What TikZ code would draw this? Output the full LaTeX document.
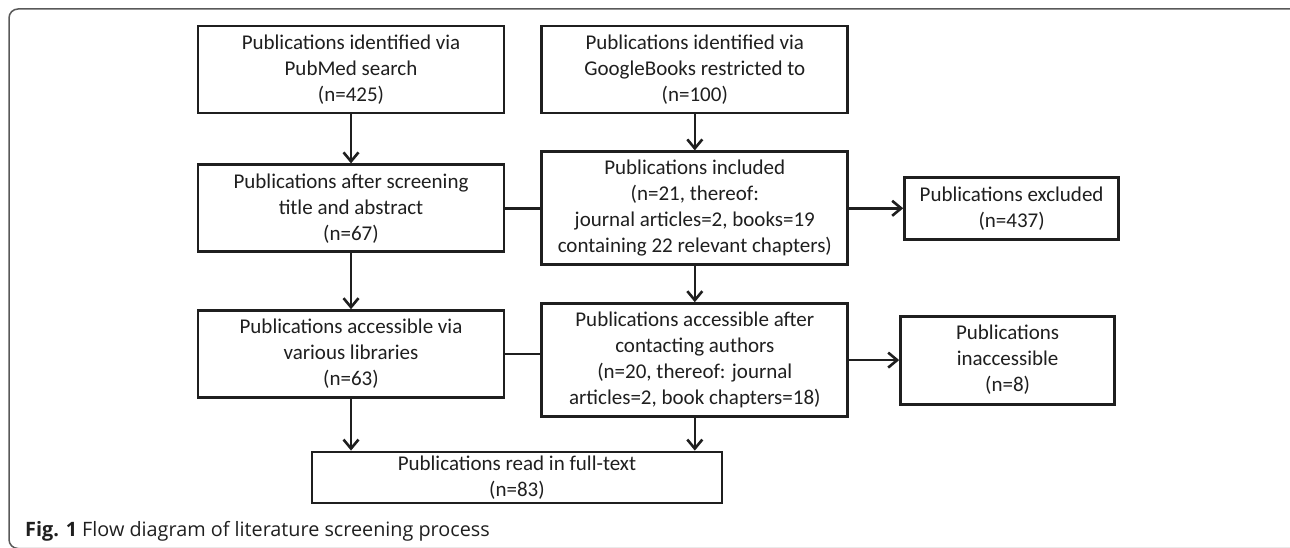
\documentclass[tikz,border=0pt]{standalone}
\usepackage{fontspec}
\setmainfont{Carlito}
\newfontfamily\capfont{Open Sans}
\usepackage{tikz}
\usetikzlibrary{positioning,arrows.meta}
\definecolor{ink}{rgb}{0.12,0.12,0.12}
\definecolor{framegray}{rgb}{0.35,0.35,0.35}

\begin{document}
\begin{tikzpicture}[x=1pt,y=1pt]
\tikzstyle{box}=[rectangle, draw=ink, line width=2.8pt, fill=white, text=ink, align=center, minimum width=306pt, minimum height=87pt, inner sep=2pt, font=\fontsize{21}{26}\selectfont]
\tikzstyle{bigbox}=[box, minimum height=113pt]
\tikzstyle{sidebox}=[box, minimum width=214pt]
\tikzstyle{connect}=[-{Straight Barb[length=9pt,width=15pt]}, draw=ink, line width=2.6pt]
\tikzstyle{link}=[draw=ink, line width=2.6pt]
  \useasboundingbox (0,0) rectangle (1290,-548);
  \begin{scope}
    \clip (0,0) rectangle (1290,-548);
    \draw[framegray, line width=1.5pt, rounded corners=9pt] (9,-9) rectangle (1300,-548.5);
  \end{scope}
  \node[box] (pubmed) at (351,-69.5) {Publications identified via\\PubMed search\\(n=425)};
  \node[box, right=35pt of pubmed] (google) {Publications identified via\\GoogleBooks restricted to\\(n=100)};
  \node[box, below=49pt of pubmed] (screened) {Publications after screening\\title and abstract\\(n=67)};
  \node[bigbox, below=36pt of google] (included) {Publications included\\(n=21, thereof:\\journal articles=2, books=19\\containing 22 relevant chapters)};
  \node[sidebox, minimum height=62pt, right=54pt of included] (excluded) {Publications excluded\\(n=437)};
  \node[box, below=56pt of screened] (libraries) {Publications accessible via\\various libraries\\(n=63)};
  \node[bigbox, below=36pt of included] (contacted) {Publications accessible after\\contacting authors\\(n=20, thereof: journal\\articles=2, book chapters=18)};
  \node[sidebox, minimum height=88pt, right=50pt of contacted] (inaccessible) {Publications\\inaccessible\\(n=8)};
  \node[box, minimum width=410pt, minimum height=51pt] (fulltext) at (517,-477.5) {Publications read in full-text\\(n=83)};
  \path (pubmed) edge [connect] (screened)
        (google) edge [connect] (included)
        (screened) edge [link] (included)
        (included) edge [connect] (excluded)
        (screened) edge [connect] (libraries)
        (included) edge [connect] (contacted)
        (libraries.east) edge [link] (libraries.east -| contacted.west)
        (contacted.east) edge [connect] (contacted.east -| inaccessible.west)
        (libraries.south) edge [connect] (libraries.south |- fulltext.north)
        (contacted.south) edge [connect] (contacted.south |- fulltext.north);
  \node[anchor=base west, inner sep=0pt, text=ink, font=\capfont\fontsize{19.8}{22}\selectfont] (caption) at (25,-536) {\textbf{Fig. 1} Flow diagram of literature screening process};
\end{tikzpicture}
\end{document}
